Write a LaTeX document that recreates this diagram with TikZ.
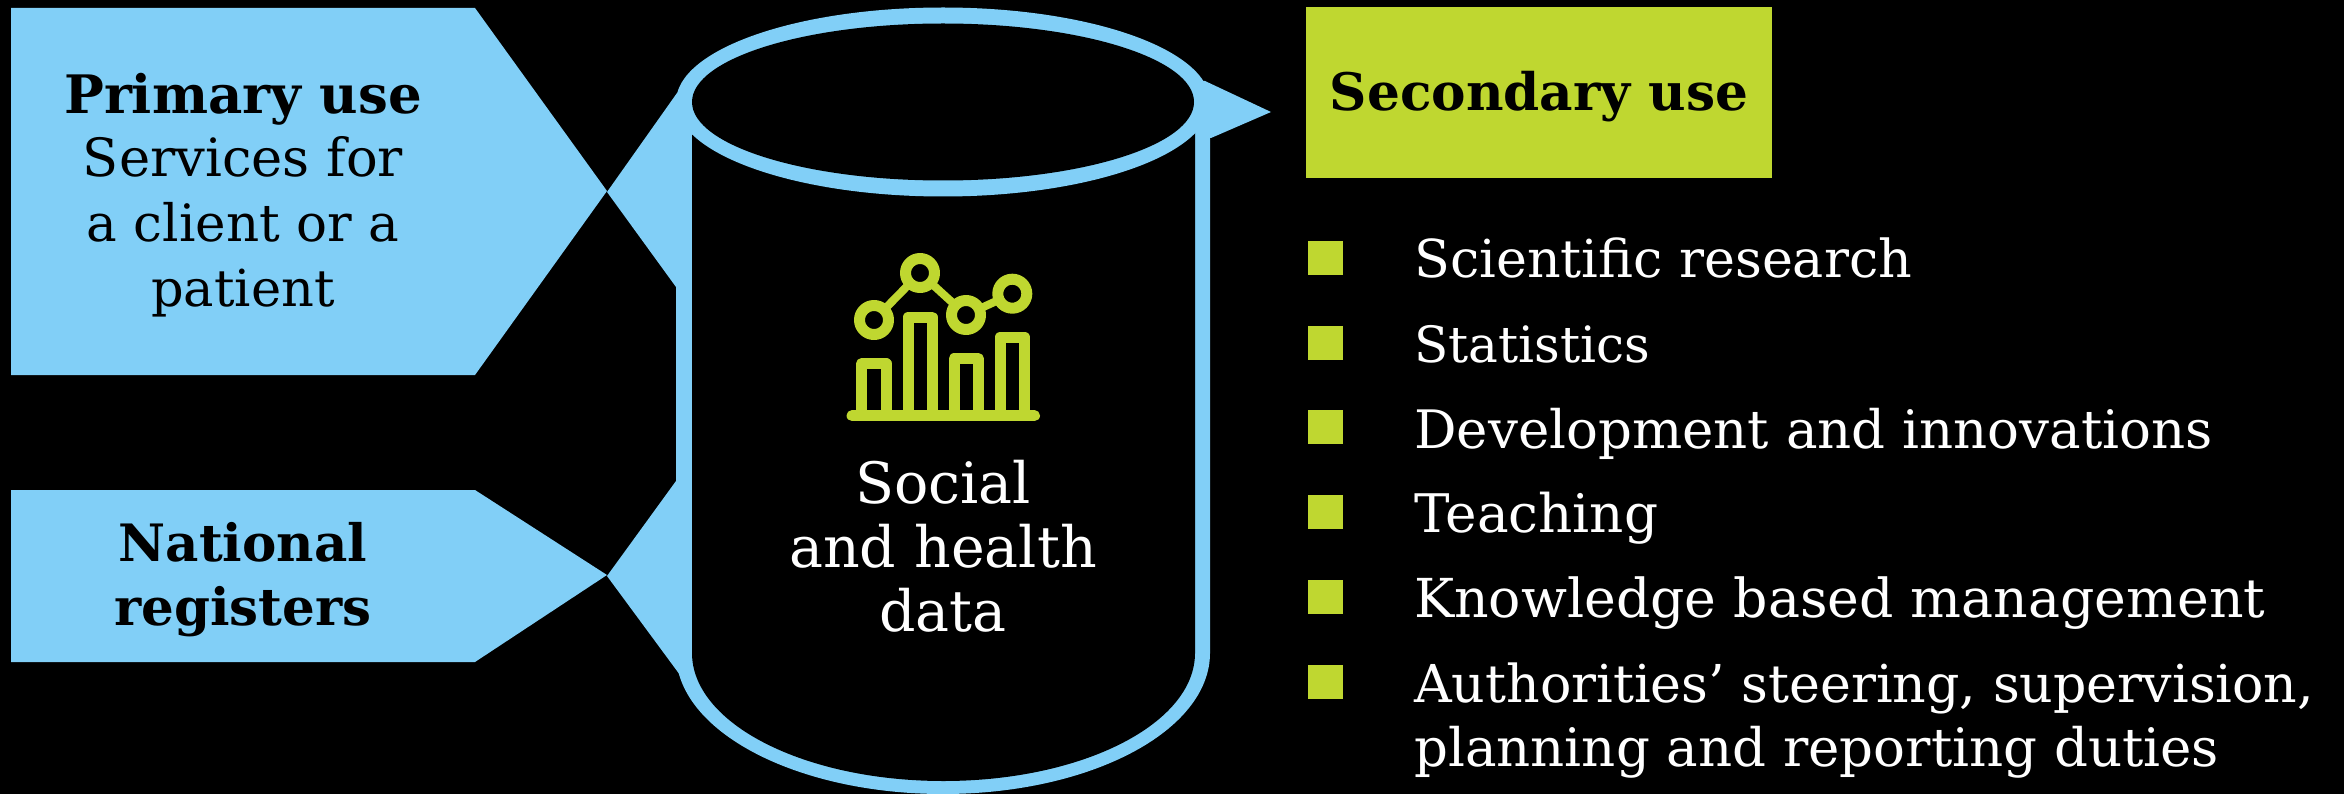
\documentclass[tikz,border=0pt]{standalone}
\usepackage{fontspec}
\setmainfont{DejaVu Serif}
\definecolor{skyb}{HTML}{81CFF7}
\definecolor{limeg}{HTML}{BFD730}
\tikzset{
  txt/.style={text=white,inner sep=0pt,anchor=base,font=\fontsize{57}{60}\selectfont},
  lst/.style={text=white,inner sep=0pt,anchor=base west,font=\fontsize{#1}{60}\selectfont},
  head/.style={inner sep=0pt,anchor=base,text=black,font=\fontsize{#1}{60}\selectfont\bfseries},
  blk/.style={inner sep=0pt,anchor=base,text=black,font=\fontsize{#1}{60}\selectfont},
  blob/.style={fill=skyb},
  bul/.style={fill=limeg},
  icon/.style={draw=limeg,line width=11pt,line join=round},
}
\begin{document}
\begin{tikzpicture}[x=1pt,y=1pt,yscale=-1]
\fill[black] (0,0) rectangle (2344,794);
\useasboundingbox (0,0) rectangle (2344,794);
\begin{scope}
\clip (0,0) rectangle (2344,794);
% arrows
\fill[blob] (11,8) -- (475,8) -- (607,191) -- (475,375) -- (11,375) -- cycle;
\fill[blob] (11,490) -- (475,490) -- (607,575) -- (475,662) -- (11,662) -- cycle;
% wedges
\fill[blob] (607,192) -- (677,93) -- (692,93) -- (692,287) -- (676,287) -- cycle;
\fill[blob] (607,576) -- (676,481) -- (692,481) -- (692,680) -- (680,675) -- cycle;
\fill[blob] (1205,81) -- (1271,112) -- (1211,138) -- (1190,138) -- (1190,81) -- cycle;
% cylinder
\fill[blob] (676,101.5) -- (676,653) arc[start angle=180,end angle=0,x radius=267,y radius=141] -- (1210,101.5) -- cycle;
\fill[black] (692,101.5) -- (692,653) arc[start angle=180,end angle=0,x radius=251.5,y radius=128] -- (1195,101.5) -- cycle;
\fill[blob] (943,102) ellipse[x radius=267,y radius=94.5];
\fill[black] (943,102) ellipse[x radius=251,y radius=78.5];
\end{scope}
% icon
\draw[icon] (861.7,415.7) -- (861.7,363.7) -- (886,363.7) -- (886,415.7);
\draw[icon] (908,415.7) -- (908,317.3) -- (932.3,317.3) -- (932.3,415.7);
\draw[icon] (954,415.7) -- (954,358.7) -- (978.3,358.7) -- (978.3,415.7);
\draw[icon] (1000,415.7) -- (1000,337.3) -- (1024.7,337.3) -- (1024.7,415.7);
\draw[icon,line cap=round] (852,415.7) -- (1034.5,415.7);
\coordinate (c1) at (874,320);
\coordinate (c2) at (920,273);
\coordinate (c3) at (966,315);
\coordinate (c4) at (1012.3,293.7);
\draw[icon,line width=8pt] (c1) -- (c2) -- (c3) -- (c4);
\foreach \c in {c1,c2,c3,c4} \draw[icon,fill=black] (\c) circle[radius=14.5];
% left text
\node[head=53] (p1) at (243,114) {Primary use};
\node[blk=52.7] (p2) at (243,177) {Services for};
\node[blk=51.5] (p3) at (243,242) {a client or a};
\node[blk=51] (p4) at (243,306) {patient};
\node[head=51.5] (n1) at (243,561) {National};
\node[head=51.5] (n2) at (243,625) {registers};
% centre
\node[txt] (s1) at (943,503) {Social};
\node[txt] (s2) at (943,567) {and health};
\node[txt] (s3) at (943,631) {data};
% secondary
\node[fill=limeg,minimum width=466pt,minimum height=171pt,inner sep=0pt] (sec) at (1539,92.5) {};
\node[head=51.7] (sect) at (1539,111) {Secondary use};
% bullets
\foreach \i/\y in {b1/241,b2/326,b3/410,b4/495,b5/580,b6/665}
  \fill[bul] (1308,\y) rectangle (1343,\y+34);
\node[lst=52.3] (l1) at (1414,278) {Scientific research};
\node[lst=50] (l2) at (1414,362) {Statistics};
\node[lst=53] (l3) at (1414,448) {Development and innovations};
\node[lst=53.2] (l4) at (1414,532) {Teaching};
\node[lst=53.7] (l5) at (1414,617) {Knowledge based management};
\node[lst=52.2] (l6) at (1414,702) {Authorities’ steering, supervision,};
\node[lst=53] (l7) at (1414,766) {planning and reporting duties};
\end{tikzpicture}
\end{document}
